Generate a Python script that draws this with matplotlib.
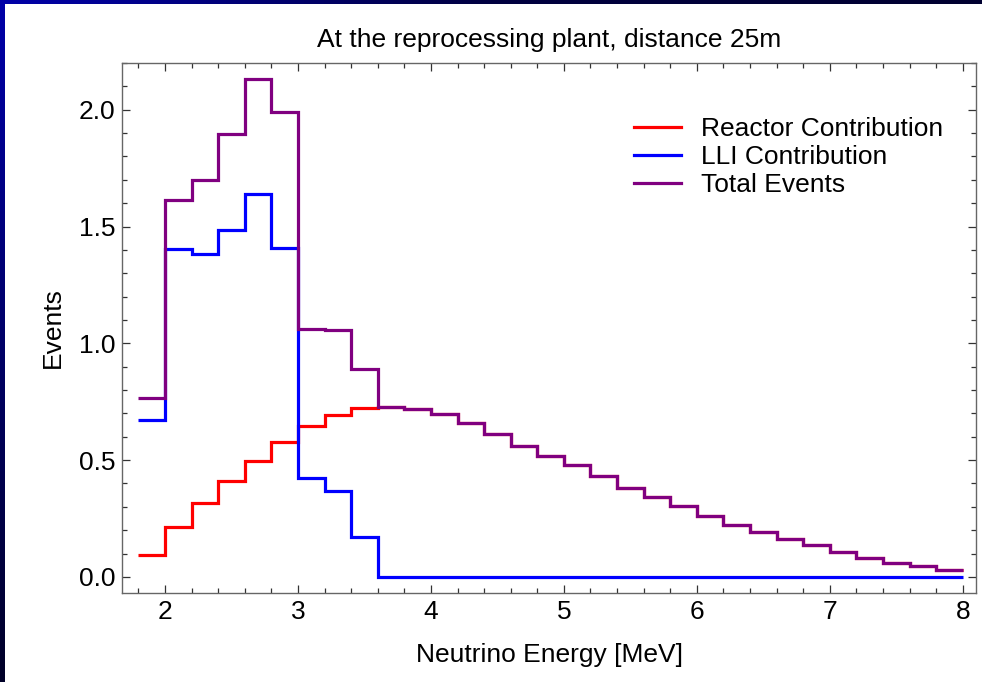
import numpy as np
import matplotlib.pyplot as plt
from matplotlib.ticker import MultipleLocator

# Bin edges of the neutrino energy histogram (MeV)
energy_edges = [1.8, 2.0, 2.2, 2.4, 2.6, 2.8, 3.0, 3.2, 3.4, 3.6, 3.8,
                4.0, 4.2, 4.4, 4.6, 4.8, 5.0, 5.2, 5.4, 5.6, 5.8,
                6.0, 6.2, 6.4, 6.6, 6.8, 7.0, 7.2, 7.4, 7.6, 7.8, 8.0]

# Events per bin
reactor = [0.093, 0.212, 0.317, 0.409, 0.498, 0.579, 0.646, 0.695, 0.722,
           0.727, 0.720, 0.698, 0.660, 0.612, 0.559, 0.519, 0.477, 0.432,
           0.381, 0.342, 0.303, 0.260, 0.222, 0.192, 0.163, 0.136, 0.107,
           0.080, 0.060, 0.046, 0.031]
lli = [0.673, 1.405, 1.383, 1.486, 1.640, 1.410, 0.422, 0.366, 0.169,
       0.0, 0.0, 0.0, 0.0, 0.0, 0.0, 0.0, 0.0, 0.0, 0.0, 0.0, 0.0,
       0.0, 0.0, 0.0, 0.0, 0.0, 0.0, 0.0, 0.0, 0.0, 0.0]
total = [0.764, 1.612, 1.697, 1.894, 2.132, 1.991, 1.063, 1.057, 0.888,
         0.727, 0.720, 0.698, 0.660, 0.612, 0.559, 0.519, 0.477, 0.432,
         0.381, 0.342, 0.303, 0.260, 0.222, 0.192, 0.163, 0.136, 0.107,
         0.080, 0.060, 0.046, 0.031]

plt.rcParams['font.family'] = ['Liberation Sans', 'DejaVu Sans']
fs = 19

W, H = 982, 682
fig = plt.figure(figsize=(W / 100, H / 100), dpi=100, facecolor='white')

# dark window frame on the top and left edges
left_bar = fig.add_axes([0, 0, 5 / W, 1])
left_bar.imshow(np.linspace(0, 1, 100).reshape(-1, 1), aspect='auto',
                cmap=plt.matplotlib.colors.LinearSegmentedColormap.from_list('lb', ['#0000a8', '#000028']))
left_bar.axis('off')
top_bar = fig.add_axes([0, 1 - 4 / H, 1, 4 / H])
top_bar.imshow(np.linspace(0, 1, 100).reshape(1, -1), aspect='auto',
               cmap=plt.matplotlib.colors.LinearSegmentedColormap.from_list('tb', ['#0000a8', '#000040', '#000030']))
top_bar.axis('off')

ax = fig.add_axes([122 / W, 89 / H, 854 / W, 530 / H])

lw = 2.3
ax.stairs(reactor, energy_edges, baseline=None, color='#ff0000', lw=lw, label='Reactor Contribution')
ax.stairs(lli, energy_edges, baseline=None, color='#0000ff', lw=lw, label='LLI Contribution')
ax.stairs(total, energy_edges, baseline=None, color='#800080', lw=lw, label='Total Events')

ax.set_xlim(1.676, 8.1)
ax.set_ylim(-0.069, 2.2)
ax.xaxis.set_major_locator(MultipleLocator(1))
ax.xaxis.set_minor_locator(MultipleLocator(0.2))
ax.yaxis.set_major_locator(MultipleLocator(0.5))
ax.yaxis.set_minor_locator(MultipleLocator(0.1))
ax.yaxis.set_major_formatter(plt.FormatStrFormatter('%.1f'))
ax.tick_params(which='both', direction='in', top=True, right=True,
               labelsize=fs, color='#333333', width=0.9)
ax.tick_params(which='major', length=5.5, pad=5)
ax.tick_params(which='minor', length=3.3)
for s in ax.spines.values():
    s.set_color('#666666')
    s.set_linewidth(1.0)

ax.set_title('At the reprocessing plant, distance 25m', fontsize=fs, y=1.0434, va='center', pad=0)
ax.set_xlabel('Neutrino Energy [MeV]', fontsize=fs)
ax.xaxis.set_label_coords(0.5, -0.117)
ax.xaxis.label.set_va('center')
ax.set_ylabel('Events', fontsize=fs)
ax.yaxis.set_label_coords(-0.081, 0.5)
ax.yaxis.label.set_va('center')

ax.legend(loc='center left', bbox_to_anchor=(0.599, 0.822), frameon=False,
          fontsize=fs, handlelength=1.8, handletextpad=0.75, labelspacing=0.15,
          borderpad=0, borderaxespad=0)

fig.savefig('out.png', dpi=100)
